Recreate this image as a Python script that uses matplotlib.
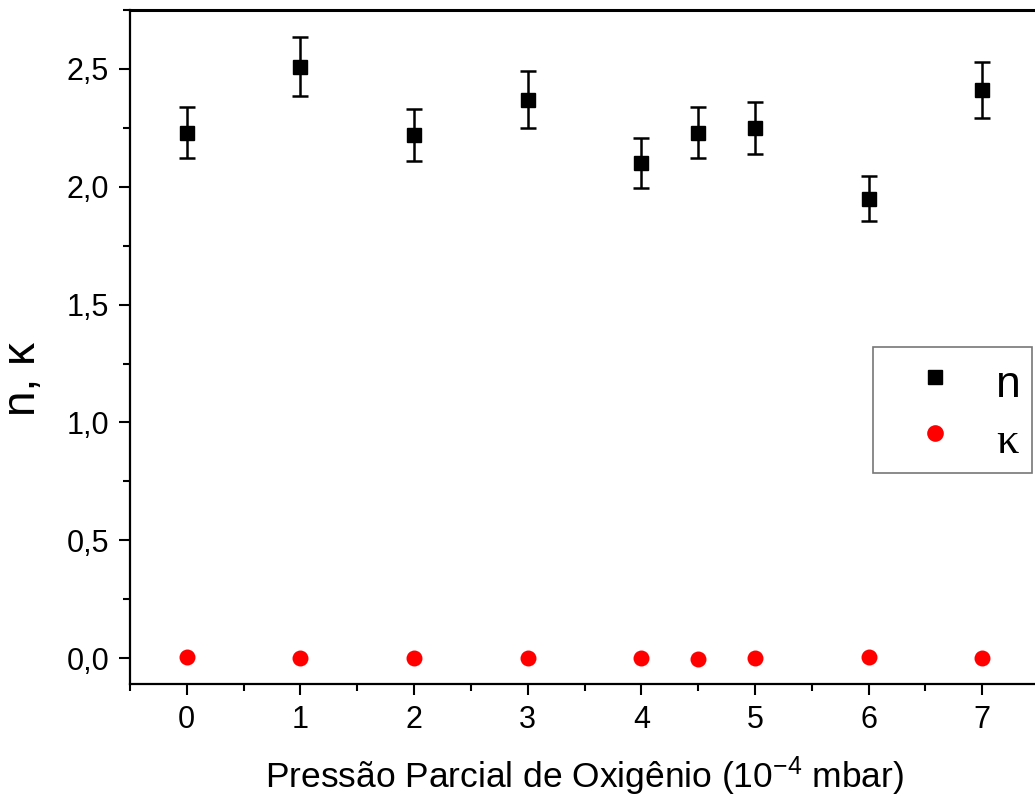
import matplotlib
matplotlib.use("Agg")
import matplotlib.pyplot as plt
from matplotlib.lines import Line2D
from matplotlib.ticker import MultipleLocator, FuncFormatter

plt.rcParams["font.family"] = ["Liberation Sans", "DejaVu Sans"]
plt.rcParams["mathtext.fontset"] = "custom"
plt.rcParams["mathtext.rm"] = "Liberation Sans"
plt.rcParams["mathtext.it"] = "Liberation Sans:italic"

# oxygen partial pressure (1e-4 mbar)
pressure = [0, 1, 2, 3, 4, 4.5, 5, 6, 7]
n_values = [2.23, 2.51, 2.22, 2.37, 2.10, 2.23, 2.25, 1.95, 2.41]
n_errors = [0.11, 0.125, 0.11, 0.12, 0.105, 0.11, 0.11, 0.095, 0.12]
k_values = [0.006, 0.0, 0.0, 0.0, 0.0, -0.002, 0.001, 0.004, 0.0]


def comma_fmt(v, pos):
    return f"{v:.1f}".replace(".", ",")


fig = plt.figure(figsize=(10.35, 7.96), dpi=100)
ax = fig.add_axes([0.1256, 0.1407, 0.8783, 0.8467])

ax.errorbar(pressure, n_values, yerr=n_errors, fmt="s", color="black",
            markersize=10.5, elinewidth=1.8, capsize=6, capthick=1.8)
ax.plot(pressure, k_values, "o", color="red", markersize=11.5,
        markeredgewidth=0)

ax.set_xlim(-0.5, 7.5)
ax.set_ylim(-0.11, 2.75)
ax.xaxis.set_major_locator(MultipleLocator(1))
ax.xaxis.set_minor_locator(MultipleLocator(0.5))
ax.yaxis.set_major_locator(MultipleLocator(0.5))
ax.yaxis.set_minor_locator(MultipleLocator(0.25))
ax.yaxis.set_major_formatter(FuncFormatter(comma_fmt))

ax.tick_params(which="major", direction="out", length=8, width=1.5,
               labelsize=22, pad=7)
ax.tick_params(which="minor", direction="out", length=5, width=1.5)
for side in ["left", "bottom"]:
    ax.spines[side].set_linewidth(1.6)
ax.spines["top"].set_linewidth(2.2)
ax.spines["right"].set_linewidth(1.6)

ax.set_xlabel("Press\u00e3o Parcial de Oxig\u00eanio (10$^{-4}$ mbar)",
              fontsize=25.5, labelpad=14)
ax.set_ylabel("n, \u03ba", fontsize=33)
ax.yaxis.set_label_coords(-0.093, 0.4525)

handles = [
    Line2D([], [], ls="none", marker="s", color="black", markersize=9.5),
    Line2D([], [], ls="none", marker="o", color="red", markersize=12,
           markeredgewidth=0),
]
leg = ax.legend(handles, ["n", "\u03ba"], loc="upper left",
                bbox_to_anchor=(0.817, 0.5),
                fontsize=32, frameon=True, fancybox=False, edgecolor="#555555",
                handlelength=2.3, handleheight=1.27, handletextpad=0.22,
                borderpad=0.25, labelspacing=0.18, borderaxespad=0)
leg.get_frame().set_linewidth(1.2)
leg.get_texts()[1].set_family("Liberation Serif")

fig.savefig("out.png", dpi=100)
